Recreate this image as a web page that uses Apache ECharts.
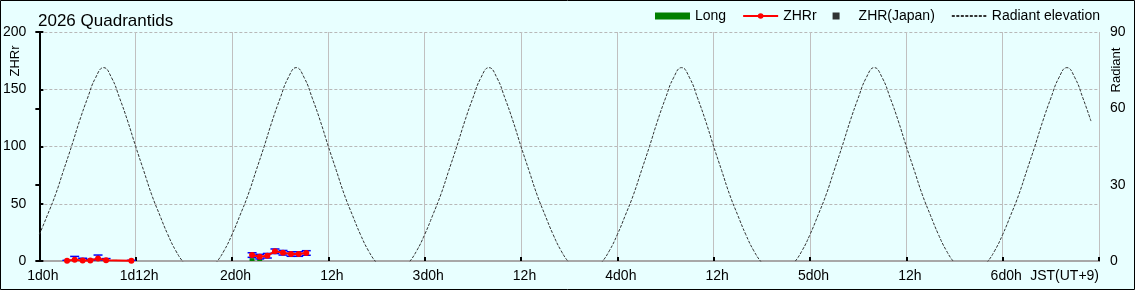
<!DOCTYPE html>
<html>
<head>
<meta charset="utf-8">
<script src="https://cdn.jsdelivr.net/npm/echarts@6/dist/echarts.min.js"></script>
<style>
html,body{margin:0;padding:0;background:#e8ffff;}
#c{width:1135px;height:290px;}
</style>
</head>
<body>
<div id="c"></div>
<script>
// Hours after 1d0h JST for the ZHRr observations (null = gap between nights)
const zhrHours = [3.45, 4.4, 5.39, 6.35, 7.31, 8.31, 11.46, 20, 26.5, 27.45, 28.4, 29.35, 30.35, 31.35, 32.3, 33.25];
const zhrValues = [0.3, 1.0, 0.4, 0.4, 2.2, 0.6, 0.3, null, 5.2, 3.8, 4.6, 8.5, 7.2, 6.1, 6.1, 7.0];
const zhrErrors = [0.3, 3.0, 2.0, 1.0, 3.0, 1.5, 0.3, null, 2.0, 2.0, 2.0, 2.0, 2.0, 2.0, 2.0, 2.0];
// Long bars
const longHours = [9.4, 26.5, 27.45];
const longValues = [1.0, 2.5, 2.5];
// ZHR(Japan) - none visible
const japanHours = [];
const japanValues = [];
// Radiant elevation (deg), hourly from 1d0h
const radiantElev = [
 10.4,18,26,35.5,45,55,64,72,76,72,64,55,45,35.5,26,18,10.4,4,-0.7,-3.8,-4.8,-3.8,-0.7,4,
 10.4,18,26,35.5,45,55,64,72,76,72,64,55,45,35.5,26,18,10.4,4,-0.7,-3.8,-4.8,-3.8,-0.7,4,
 10.4,18,26,35.5,45,55,64,72,76,72,64,55,45,35.5,26,18,10.4,4,-0.7,-3.8,-4.8,-3.8,-0.7,4,
 10.4,18,26,35.5,45,55,64,72,76,72,64,55,45,35.5,26,18,10.4,4,-0.7,-3.8,-4.8,-3.8,-0.7,4,
 10.4,18,26,35.5,45,55,64,72,76,72,64,55,45,35.5,26,18,10.4,4,-0.7,-3.8,-4.8,-3.8,-0.7,4,
 10.4,18,26,35.5,45,55,64,72,76,72,64,55
];
const xTickLabels = {0:'1d0h',12:'1d12h',24:'2d0h',36:'12h',48:'3d0h',60:'12h',72:'4d0h',84:'12h',96:'5d0h',108:'12h',120:'6d0h',132:'JST(UT+9)'};

const FONT = '"Liberation Sans", Arial, sans-serif';
const chart = echarts.init(document.getElementById('c'), null, {renderer:'canvas'});

const option = {
  backgroundColor: '#e8ffff',
  animation: false,
  title: {
    text: '2026 Quadrantids', left: 33, top: 8,
    textStyle: {fontFamily: FONT, fontSize: 17, fontWeight: 'normal', color: '#000'}
  },
  legend: {
    right: 35, top: 9, padding: 0, itemWidth: 35, itemHeight: 7, itemGap: 16,
    textStyle: {fontFamily: FONT, fontSize: 14, color: '#000'},
    data: [
      {name: 'Long', icon: 'rect'},
      {name: 'ZHRr'},
      {name: 'ZHR(Japan)', icon: 'path://M0,0h1v1h-1z'},
      {name: 'Radiant elevation', itemStyle: {color: 'rgba(0,0,0,0)', borderWidth: 0}}
    ]
  },
  grid: {left: 39, right: 36, top: 32, bottom: 29, containLabel: false},
  xAxis: [{
    type: 'value', min: 0, max: 132, interval: 12,
    axisLine: {lineStyle: {color: '#000', width: 2}},
    axisTick: {inside: true, length: 4, lineStyle: {color: '#000', width: 2}},
    axisLabel: {
      fontFamily: FONT, fontSize: 14, color: '#000', margin: 8, padding: [0,0,0,7],
      alignMaxLabel: 'right',
      formatter: v => xTickLabels[v] !== undefined ? xTickLabels[v] : ''
    },
    splitLine: {show: true, lineStyle: {color: '#c0c0c0', width: 1, type: 'solid'}}
  }, {
    type: 'value', position: 'top', min: 0, max: 132,
    axisLine: {show: true, lineStyle: {color: '#a8a8a8', width: 2}},
    axisTick: {show: false}, axisLabel: {show: false}, splitLine: {show: false}
  }],
  yAxis: [{
    type: 'value', min: 0, max: 200, interval: 50,
    axisLine: {show: true, lineStyle: {color: '#000', width: 2}},
    axisTick: {show: true, inside: true, length: 4, lineStyle: {color: '#000', width: 2}},
    axisLabel: {fontFamily: FONT, fontSize: 14, color: '#000', margin: 13},
    splitLine: {show: true, lineStyle: {color: '#b8b8b8', width: 1, type: [3, 2]}}
  }, {
    type: 'value', min: 0, max: 90, interval: 30, position: 'right',
    axisLine: {show: true, lineStyle: {color: '#000', width: 2}},
    axisTick: {show: true, inside: true, length: 4, lineStyle: {color: '#000', width: 2}},
    axisLabel: {fontFamily: FONT, fontSize: 14, color: '#000', margin: 11},
    splitLine: {show: false}
  }],
  graphic: [
    {type: 'text', x: 15, y: 61, rotation: Math.PI / 2, silent: true,
     style: {text: 'ZHRr', font: '13px ' + FONT, fill: '#000', align: 'center', verticalAlign: 'middle'}},
    {type: 'text', x: 1116, y: 70, rotation: Math.PI / 2, silent: true,
     style: {text: 'Radiant', font: '13px ' + FONT, fill: '#000', align: 'center', verticalAlign: 'middle'}},
    {type: 'rect', silent: true, z: 100, shape: {x: 0.5, y: 0.5, width: 1134, height: 289},
     style: {fill: null, stroke: '#000', lineWidth: 1}}
  ],
  series: [
    {
      name: 'Radiant elevation', type: 'line', yAxisIndex: 1, xAxisIndex: 0,
      data: radiantElev.map((v, i) => [i, v]),
      symbol: 'none', smooth: true, clip: true, z: 1,
      lineStyle: {color: '#333', width: 1, type: [3, 1.5]},
      itemStyle: {color: '#333'}
    },
    {
      name: 'Long', type: 'bar', yAxisIndex: 0, xAxisIndex: 0,
      data: longHours.map((h, i) => [h, longValues[i]]),
      barWidth: 5, itemStyle: {color: '#008000'}, z: 2
    },
    {
      name: 'ZHRerr', type: 'custom', yAxisIndex: 0, xAxisIndex: 0, clip: true, z: 3,
      data: zhrHours.map((h, i) => zhrValues[i] === null ? [h, '-', '-'] :
        [h, Math.max(0, zhrValues[i] - zhrErrors[i]), zhrValues[i] + zhrErrors[i]]),
      renderItem: function (params, api) {
        const x = api.value(0);
        const hi = api.value(2), lo = api.value(1);
        if (isNaN(hi) || isNaN(lo)) return null;
        const top = api.coord([x, hi]);
        const bot = api.coord([x, lo]);
        const hw = 4.5;
        const st = {stroke: '#0000ff', lineWidth: 1.5};
        return {type: 'group', children: [
          {type: 'line', shape: {x1: top[0], y1: top[1], x2: bot[0], y2: bot[1]}, style: st},
          {type: 'line', shape: {x1: top[0] - hw, y1: top[1], x2: top[0] + hw, y2: top[1]}, style: st},
          {type: 'line', shape: {x1: bot[0] - hw, y1: bot[1], x2: bot[0] + hw, y2: bot[1]}, style: st}
        ]};
      }
    },
    {
      name: 'ZHRr', type: 'line', yAxisIndex: 0, xAxisIndex: 0, z: 4,
      data: zhrHours.map((h, i) => [h, zhrValues[i] === null ? '-' : zhrValues[i]]),
      symbol: 'circle', symbolSize: 6, showAllSymbol: true, connectNulls: false,
      lineStyle: {color: '#ff0000', width: 2},
      itemStyle: {color: '#ff0000'}
    },
    {
      name: 'ZHR(Japan)', type: 'scatter', yAxisIndex: 0, xAxisIndex: 0, z: 5,
      data: japanHours.map((h, i) => [h, japanValues[i]]),
      symbol: 'rect', symbolSize: 5, itemStyle: {color: '#000'}
    }
  ]
};
chart.setOption(option);
</script>
</body>
</html>
